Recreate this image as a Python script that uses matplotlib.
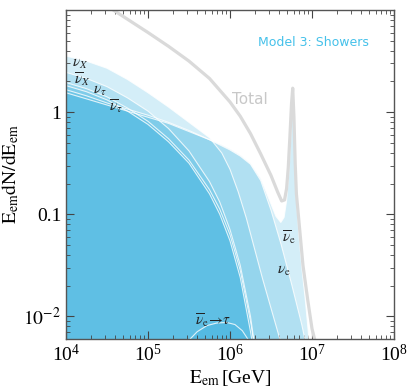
import numpy as np
import matplotlib
matplotlib.use("Agg")
import matplotlib.pyplot as plt

plt.rcParams['font.family'] = ['Liberation Serif', 'DejaVu Serif']
plt.rcParams['mathtext.fontset'] = 'stix'

# log10(E_em / GeV) and log10(E dN/dE)
lgE_nuX = [4.0, 4.25, 4.5, 4.75, 5.0, 5.25, 5.5, 5.75, 5.9, 6.0, 6.1, 6.2, 6.3, 6.4, 6.5, 6.6, 6.7]
lg_nuX = [0.55, 0.50, 0.43, 0.32, 0.19, 0.05, -0.10, -0.25, -0.40, -0.56, -0.78, -1.04, -1.34, -1.64, -1.92, -2.20, -2.50]

lgE_nubX = [4.0, 4.25, 4.5, 4.75, 5.0, 5.25, 5.5, 5.75, 5.875, 6.0, 6.125, 6.25, 6.32]
lg_nubX = [0.39, 0.33, 0.25, 0.14, 0.01, -0.16, -0.38, -0.68, -0.88, -1.15, -1.50, -2.00, -2.40]

lgE_nutau = [4.0, 4.25, 4.5, 4.75, 5.0, 5.25, 5.5, 5.75, 5.875, 6.0, 6.125, 6.25, 6.32]
lg_nutau = [0.29, 0.23, 0.15, 0.04, -0.09, -0.26, -0.47, -0.76, -0.95, -1.20, -1.55, -2.05, -2.40]

lgE_nubtau = [4.0, 4.25, 4.5, 4.75, 5.0, 5.25, 5.5, 5.75, 5.875, 6.0, 6.125, 6.25, 6.3]
lg_nubtau = [0.26, 0.20, 0.12, 0.01, -0.12, -0.29, -0.50, -0.80, -1.00, -1.26, -1.62, -2.15, -2.40]

lgE_nue = [4.0, 4.25, 4.5, 4.75, 5.0, 5.25, 5.5, 5.75, 5.9, 6.0, 6.125, 6.25, 6.375, 6.5, 6.625, 6.75, 6.875, 7.0]
lg_nue = [0.22, 0.16, 0.09, 0.03, -0.03, -0.10, -0.18, -0.27, -0.33, -0.37, -0.43, -0.51, -0.67, -0.96, -1.30, -1.68, -2.08, -2.55]

lgE_nube = [4.0, 4.25, 4.5, 4.75, 5.0, 5.25, 5.5, 5.75, 5.9, 6.0, 6.125, 6.25, 6.375, 6.5, 6.56, 6.62, 6.66,
            6.69, 6.72, 6.745, 6.755, 6.765, 6.775, 6.79, 6.81, 6.84, 6.88, 6.92, 6.96, 7.0]
lg_nube = [0.19, 0.13, 0.07, 0.01, -0.05, -0.11, -0.19, -0.27, -0.32, -0.36, -0.42, -0.50, -0.65, -0.90, -1.02, -1.08, -1.03,
           -0.87, -0.57, -0.20, 0.00, 0.16, 0.02, -0.45, -0.85, -1.20, -1.55, -1.85, -2.20, -2.50]

lgE_tau = [5.48, 5.6, 5.72, 5.84, 5.96, 6.06, 6.15, 6.24]
lg_tau = [-2.25, -2.15, -2.09, -2.065, -2.06, -2.08, -2.14, -2.25]

lgE_tot = [4.0, 4.25, 4.5, 4.75, 5.0, 5.25, 5.5, 5.75, 6.0, 6.125, 6.25, 6.375, 6.5, 6.58, 6.63, 6.665,
           6.69, 6.71, 6.73, 6.75, 6.765, 6.78, 6.795, 6.81, 6.85, 6.89, 6.95, 7.0, 7.04, 7.08]
lg_tot = [1.45, 1.20, 1.04, 0.91, 0.78, 0.645, 0.50, 0.33, 0.10, -0.04, -0.21, -0.41, -0.62, -0.78, -0.87, -0.86,
          -0.75, -0.55, -0.25, 0.08, 0.235, -0.05, -0.50, -0.80, -1.15, -1.50, -1.85, -2.12, -2.25, -2.45]

fill_c = '#28aadc'
floor = 1e-4

fig = plt.figure(figsize=(4.11, 3.87), dpi=100)
ax = fig.add_axes([0.1606, 0.124, 0.798, 0.850])

series = [(lgE_nuX, lg_nuX), (lgE_nubX, lg_nubX), (lgE_nutau, lg_nutau), (lgE_nubtau, lg_nubtau),
          (lgE_nue, lg_nue), (lgE_nube, lg_nube), (lgE_tau, lg_tau)]
for lx, ly in series:
    ax.fill_between(10.0 ** np.array(lx), floor, 10.0 ** np.array(ly), color=fill_c, alpha=0.2, lw=0)
for lx, ly in series:
    ax.plot(10.0 ** np.array(lx), 10.0 ** np.array(ly), color='white', lw=0.8, alpha=0.8)

ax.plot(10.0 ** np.array(lgE_tot), 10.0 ** np.array(lg_tot), color='#dadada', lw=2.3,
        solid_joinstyle='round')

ax.set_xscale('log')
ax.set_yscale('log')
ax.set_xlim(1e4, 1e8)
ax.set_ylim(0.006, 10)
ax.set_yticks([0.01, 0.1, 1])
ax.set_yticklabels([r'$10^{-2}$', '0.1', '1'])
ax.tick_params(which='both', direction='in', top=True, right=True, labelsize=14, color='#444444')
ax.tick_params(which='major', length=6)
ax.tick_params(which='minor', length=3)
for s in ax.spines.values():
    s.set_color('#555555')
    s.set_linewidth(1.0)

ax.set_xlabel(r'$\mathrm{E_{em}}\,$[GeV]', fontsize=14, labelpad=2)
ax.set_ylabel(r'$\mathrm{E_{em}dN/dE_{em}}$', fontsize=14, labelpad=2)

lab = dict(fontsize=11, color='#222222', ha='center', va='center')
ax.text(1.48e4, 2.95, r'$\nu_X$', **lab)
ax.text(1.57e4, 2.09, r'$\overline{\nu}_X$', **lab)
ax.text(2.57e4, 1.6, r'$\nu_\tau$', **lab)
ax.text(4.07e4, 1.15, r'$\overline{\nu}_\tau$', **lab)
ax.text(4.47e6, 0.028, r'$\nu_\mathrm{e}$', **lab)
ax.text(5.25e6, 0.06, r'$\overline{\nu}_\mathrm{e}$', **lab)
ax.text(6.3e5, 0.0093, r'$\overline{\nu}_\mathrm{e}\!\rightarrow\!\tau$', **lab)
ax.text(1.74e6, 1.32, 'Total', fontsize=11, color='#c8c8c8', ha='center', va='center',
        family='DejaVu Sans')
ax.text(0.753, 0.90, 'Model 3: Showers', transform=ax.transAxes, fontsize=9,
        color='#45c1ea', ha='center', va='center', family='DejaVu Sans')

fig.savefig('out.png', dpi=100)
